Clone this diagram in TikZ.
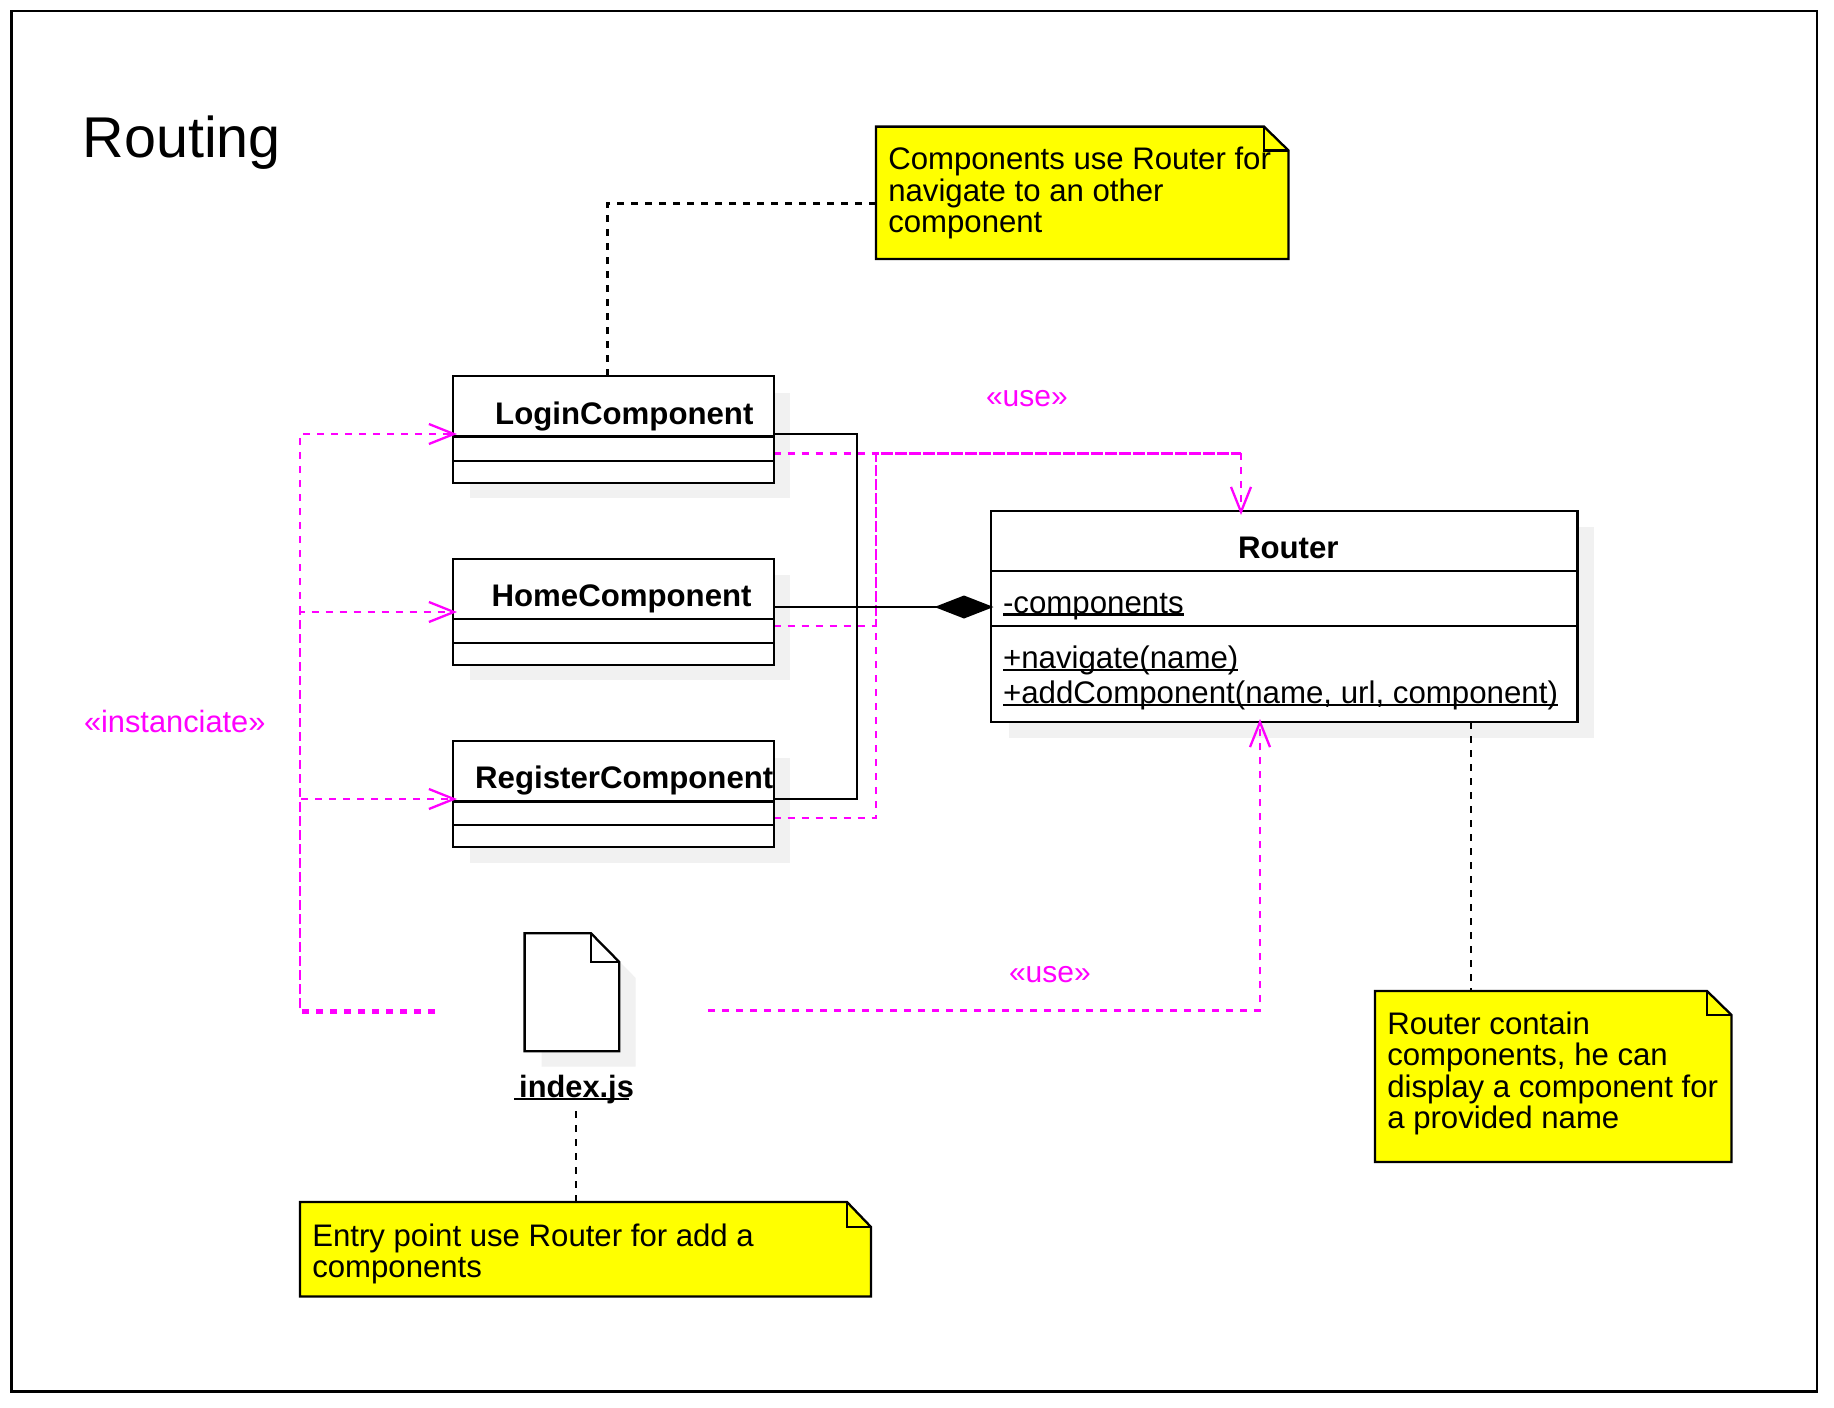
\documentclass[tikz,border=0pt]{standalone}
\usepackage{fontspec}
\setmainfont{Liberation Sans}
\usetikzlibrary{arrows.meta}
\definecolor{mag}{HTML}{FF00FF}
\definecolor{shadowgray}{HTML}{F1F1F1}
\definecolor{noteyellow}{HTML}{FFFF00}
\newcommand{\firstline}{\rule{0pt}{25pt}}
\newcommand{\notebox}[6]{%
  \draw[fill=noteyellow,line join=miter] (#1,#2) -- (#5,#2) -- (#3,#6) -- (#3,#4) -- (#1,#4) -- cycle;
  \draw (#5,#2) -- (#5,#6) -- (#3,#6);}
\tikzset{
  x=1pt,y=-1pt,
  classbox/.style={draw=black,fill=white,minimum width=321pt,anchor=north west,inner sep=0pt,outer sep=0pt},
  bodyfont/.style={font=\fontsize{31.15}{31.5}\selectfont,inner sep=0pt,outer sep=0pt},
  classname/.style={bodyfont,font=\fontsize{31.2}{31.5}\selectfont\bfseries,anchor=base west},
  member/.style={bodyfont,font=\fontsize{31.25}{31.5}\selectfont,anchor=base west},
  notetext/.style={bodyfont,anchor=north west,align=left},
  stereo/.style={font=\fontsize{30}{31}\selectfont,text=mag,inner sep=0pt,outer sep=0pt,anchor=base west},
  blackdash/.style={draw=black,dash pattern=on 7pt off 7pt},
  magdash/.style={draw=mag,line width=2.4pt,dash pattern=on 7pt off 7pt},
  open/.style={-{Straight Barb[length=25pt,width=20pt,line width=2.3pt]}},
  uline/.style={draw=black},
}
\begin{document}
\begin{tikzpicture}[line width=2.3pt]
\useasboundingbox (0,0) rectangle (1834,1408);
\fill[white] (0,0) rectangle (1834,1408);
\draw[line width=2.5pt] (11.7,11) rectangle (1817,1391.5);

\begin{scope}[yshift=-1pt]
% shadows
\fill[shadowgray] (470,392) rectangle (790,497);
\fill[shadowgray] (470,574) rectangle (790,679);
\fill[shadowgray] (470,756.5) rectangle (790,861.5);
\fill[shadowgray] (1009,526) rectangle (1594,737);
\fill[shadowgray] (541.7,1065.7) -- (635.7,1065.7) -- (635.7,977) -- (619,960) -- (619,1049.3) -- (541.7,1049.3) -- cycle;

% coordinates for connection points
\coordinate (hub) at (857,606);
\coordinate (useA) at (875.7,452.3);
\coordinate (useB) at (1241,452.3);
\coordinate (idxR) at (708,1009.4);
\coordinate (useC) at (1260,1009.4);

% connectors behind the boxes
\draw[magdash] (773.5,452.3) -- (useB);
\draw[magdash] (773.5,625) -- (875.7,625) -- (useA) -- (useB);
\draw[magdash] (773.5,817) -- (875.7,817) -- (useA) -- (useB);

% classes
\node[classbox,minimum height=107pt] (login) at (453,375) {};
\node[classbox,minimum height=106.5pt] (home) at (453,557.7) {};
\node[classbox,minimum height=106pt] (register) at (453,740) {};
\node[classbox,minimum width=586.5pt,minimum height=211pt] (router) at (991,510) {};
\draw (453,435.6) -- (774,435.6) (453,460) -- (774,460);
\draw (453,618) -- (774,618) (453,641.7) -- (774,641.7);
\draw (453,800.5) -- (774,800.5) (453,824) -- (774,824);
\draw (991,570) -- (1577.5,570) (991,625.3) -- (1577.5,625.3);

\node[classname] (loginT) at (495.2,423) {LoginComponent};
\node[classname] (homeT) at (491.6,605) {HomeComponent};
\node[classname] (registerT) at (475.2,787) {RegisterComponent};
\node[classname] (routerT) at (1238,557) {Router};
\node[member] (attr) at (1003,612) {-components};
\node[member] (op1) at (1003,667.5) {+navigate(name)};
\node[member] (op2) at (1003,702.5) {+addComponent(name, url, component)};
\draw[uline] ([yshift=-1.5pt]attr.base west) -- ([yshift=-1.5pt]attr.base east);
\draw[uline] ([yshift=-1.5pt]op1.base west) -- ([yshift=-1.5pt]op1.base east);
\draw[uline] ([yshift=-1.5pt]op2.base west) -- ([yshift=-1.5pt]op2.base east);

% composition
\draw (login.east |- 0,433.3) -- (857,433.3) -- (hub) -- (938,606);
\draw (register.east |- 0,798) -- (857,798) -- (hub) -- (938,606);
\draw[-{Diamond[length=59pt,width=23pt]}] (home.east |- 0,606) -- ([xshift=2.5pt]router.west |- 0,606);

% use arrow to router top
\draw[magdash,open] (useB) -- (1241,514);

% file artefact
\draw[fill=white,line join=miter] (524.6,932.3) -- (591,932.3) -- (619.3,961) -- (619.3,1050.3) -- (524.6,1050.3) -- cycle;
\draw (591,932.3) -- (591,961) -- (619.3,961);
\node[classname,font=\fontsize{30.8}{31}\selectfont\bfseries] (indexT) at (519.2,1096.5) {index.js};
\draw[uline] (514,1098) -- (629,1098);

% instanciate
\draw[magdash,open] (435,1009) -- (300,1009) -- (300,433) -- (457,433);
\draw[magdash,open] (435,1010.5) -- (300,1010.5) -- (300,611) -- (457,611);
\draw[magdash,open] (435,1012) -- (300,1012) -- (300,798) -- (457,798);

% use from index.js
\draw[magdash,open] (idxR) -- (useC) -- ([yshift=3pt]router.south west -| useC);

% labels
\node[stereo] (use1) at (986,405.5) {«use»};
\node[stereo] (use2) at (1009,981.5) {«use»};
\node[stereo,font=\fontsize{30.8}{31}\selectfont] (inst) at (84,731) {«instanciate»};
\node[font=\fontsize{57.5}{60}\selectfont,inner sep=0pt,anchor=base west] (title) at (81.5,156) {Routing};

% notes
\notebox{876}{125.6}{1288.5}{258}{1264}{149.5}
\coordinate (noteA) at (876,202.5);
\node[notetext] (noteAT) at (888.3,143.8) {\firstline Components use Router for\\navigate to an other\\component};
\notebox{1375}{990}{1731.5}{1161}{1707}{1014}
\coordinate (noteB) at (1471,990);
\node[notetext] (noteBT) at (1387.3,1008) {\firstline Router contain\\components, he can\\display a component for\\a provided name};
\notebox{300}{1201}{871}{1295.4}{847}{1226}
\coordinate (noteC) at (576,1201);
\coordinate (idxB) at (576,1110);
\node[notetext] (noteCT) at (312.3,1220.2) {\firstline Entry point use Router for add a\\components};

\draw[blackdash] (noteA) -- (607.6,202.5) -- ([xshift=154.6pt]login.north west);
\draw[blackdash] (router.south west -| noteB) -- (noteB);
\draw[blackdash] (idxB) -- (noteC);
\end{scope}
\end{tikzpicture}
\end{document}
